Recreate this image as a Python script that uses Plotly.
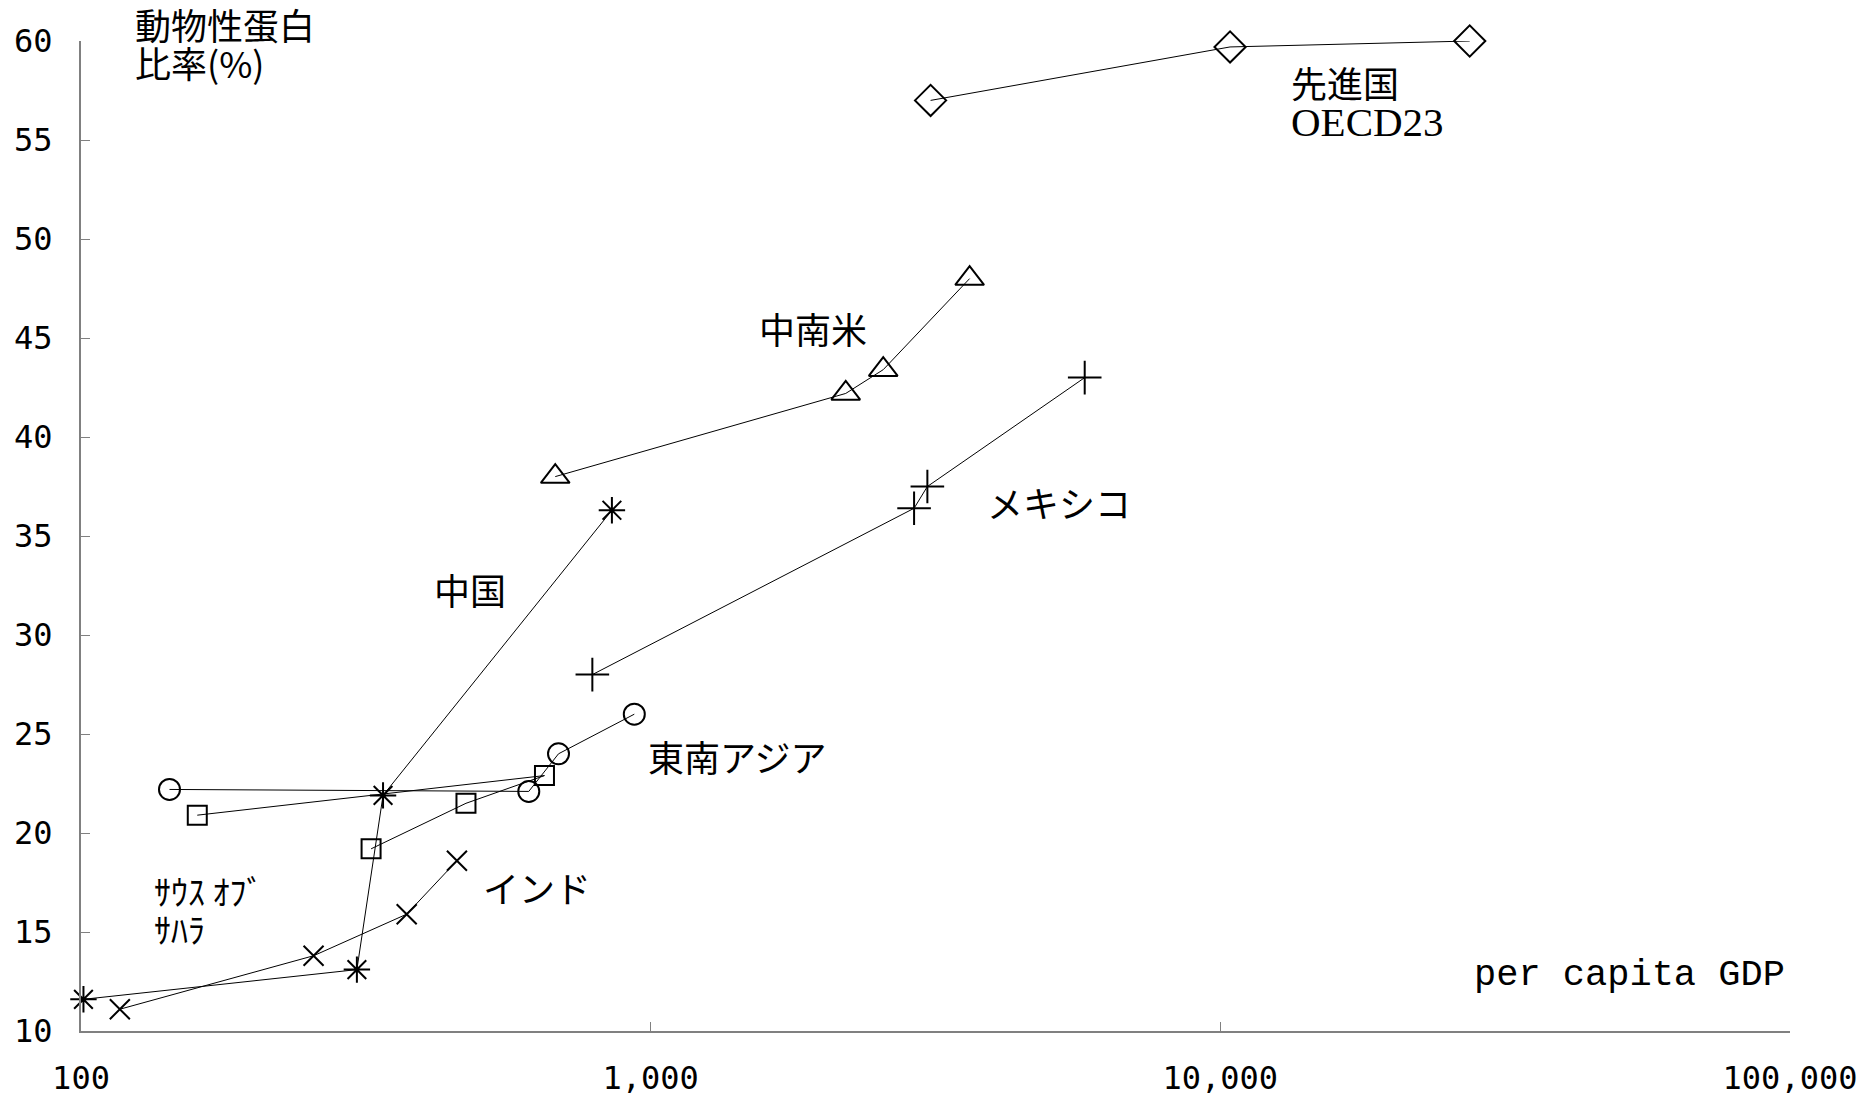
import plotly.graph_objects as go

# Per-capita GDP (US$, log scale) vs. animal-protein share of protein intake (%)
oecd_gdp = [3100, 10400, 27400]
oecd_pct = [57.0, 59.7, 60.0]

latam_gdp = [680, 2200, 2560, 3630]
latam_pct = [38.0, 42.2, 43.4, 48.0]

mexico_gdp = [790, 2900, 3060, 5780]
mexico_pct = [28.0, 36.4, 37.5, 43.0]

china_gdp = [101, 305, 339, 855]
china_pct = [11.6, 13.1, 21.9, 36.3]

sea_gdp = [143, 611, 689, 936]
sea_pct = [22.2, 22.1, 24.0, 26.0]

ssa_gdp = [323, 474, 651, 160]
ssa_pct = [19.2, 21.5, 22.9, 20.9]

india_gdp = [117, 256, 373, 457]
india_pct = [11.1, 13.8, 15.9, 18.6]

x_tickvals = [100, 1000, 10000, 100000]
x_ticktext = ["100", "1,000", "10,000", "100,000"]
y_tickvals = [10, 15, 20, 25, 30, 35, 40, 45, 50, 55, 60]

series = [
    (oecd_gdp, oecd_pct, "diamond-open", 24),
    (latam_gdp, latam_pct, "triangle-up-open", 25),
    (mexico_gdp, mexico_pct, "cross-thin-open", 24),
    (china_gdp, china_pct, "asterisk-open", 22),
    (sea_gdp, sea_pct, "circle-open", 21),
    (ssa_gdp, ssa_pct, "square-open", 19),
    (india_gdp, india_pct, "x-thin-open", 20),
]

fig = go.Figure()
for gdp, pct, sym, msize in series:
    fig.add_trace(go.Scatter(
        x=gdp, y=pct, mode="lines+markers",
        line=dict(color="black", width=1),
        marker=dict(symbol=sym, size=msize, color="black",
                    line=dict(color="black", width=2)),
        showlegend=False, cliponaxis=False,
    ))

CJK = "Noto Sans CJK JP"


def span(text, size, family=CJK):
    return f"<span style='font-size:{size}px;font-family:{family}'>{text}</span>"


# Region labels placed in data space (x in log10 units)
labels = [
    ("中南米", 3.2856, 45.49, "center", 36),
    ("メキシコ", 3.716, 36.74, "center", 36),
    ("中国", 2.682, 32.30, "center", 36),
    ("東南アジア", 3.1525, 23.91, "center", 36),
    ("インド", 2.801, 17.25, "center", 36),
]
for text, lx, ly, anchor, size in labels:
    fig.add_annotation(x=lx, y=ly, xref="x", yref="y", text=text,
                       showarrow=False, xanchor=anchor, yanchor="middle",
                       font=dict(family=CJK, size=size, color="black"))

fig.add_annotation(x=2.1248, y=16.15, xref="x", yref="y",
                   text=span("ｻｳｽ ｵﾌﾞ", 34) + "<br>" + span("ｻﾊﾗ", 34),
                   showarrow=False, xanchor="left", yanchor="middle", align="left",
                   font=dict(family=CJK, size=29, color="black"))

fig.add_annotation(x=4.12, y=56.97, xref="x", yref="y",
                   text=span("先進国", 36) + "<br>" + span("OECD23", 41, "Liberation Serif"),
                   showarrow=False, xanchor="left", yanchor="middle", align="left",
                   font=dict(family="Liberation Serif", size=29, color="black"))

# Y-axis title, drawn just above the top of the plot area
fig.add_annotation(x=2.0915, y=0.9975, xref="x", yref="paper",
                   text=span("動物性蛋白", 36) + "<br>" + span("比率(%)", 36),
                   showarrow=False, xanchor="left", yanchor="middle", align="left",
                   font=dict(family=CJK, size=29, color="black"))

fig.add_annotation(x=4.9956, y=12.82, xref="x", yref="y", text="per capita GDP",
                   showarrow=False, xanchor="right", yanchor="middle",
                   font=dict(family="Liberation Mono", size=37, color="black"))

axis_gray = "#808080"
tick_font = dict(family="DejaVu Sans Mono", size=32, color="black")
fig.update_xaxes(
    type="log", range=[2, 5], tickvals=x_tickvals, ticktext=x_ticktext,
    ticks="inside", ticklen=9, tickcolor=axis_gray, tickwidth=1,
    showline=True, linecolor=axis_gray, linewidth=2,
    showgrid=False, zeroline=False, ticklabelstandoff=18,
    ticklabeloverflow="allow", automargin=False, tickfont=tick_font,
)
fig.update_yaxes(
    range=[10, 60], tickvals=y_tickvals,
    ticks="inside", ticklen=9, tickcolor=axis_gray, tickwidth=1,
    showline=True, linecolor=axis_gray, linewidth=2,
    showgrid=False, zeroline=False, ticklabelstandoff=20,
    ticklabeloverflow="allow", automargin=False, tickfont=tick_font,
)
fig.update_layout(
    width=1859, height=1096,
    margin=dict(l=81, r=69, t=41, b=65),
    paper_bgcolor="white", plot_bgcolor="white",
)
fig.write_html("out.html")
